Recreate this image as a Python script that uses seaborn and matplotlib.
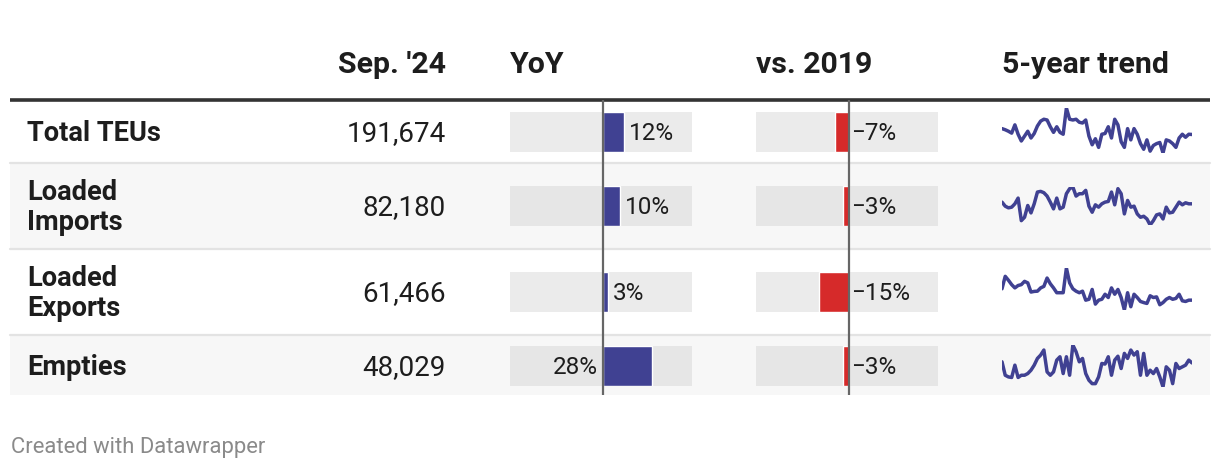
import matplotlib
matplotlib.use("Agg")
import matplotlib.pyplot as plt
import seaborn as sns
import numpy as np
import pandas as pd

# ---------------- data ----------------
categories = ["Total TEUs", "Loaded\nImports", "Loaded\nExports", "Empties"]
sep24 = ["191,674", "82,180", "61,466", "48,029"]
yoy = [12, 10, 3, 28]
vs2019 = [-7, -3, -15, -3]
headers = ["Sep. '24", "YoY", "vs. 2019", "5-year trend"]

trend_total = [199.5, 198, 196, 193.5, 204.5, 192, 183, 189.5, 196, 187, 193, 203, 209.5, 212, 211,
               202, 194.5, 202, 194.5, 192, 227, 212, 211, 212, 208, 207, 211, 189.5, 178, 186,
               174.5, 192, 193, 202, 187, 212, 204.5, 182, 174.5, 199.5, 184.5, 199.5, 192, 179.5, 172,
               184.5, 169.5, 177, 179.5, 181, 167, 184.5, 183, 179.5, 174.5, 187, 192, 188, 192, 191.7]
trend_imports = [83.2, 80.8, 79.8, 80.2, 82.2, 85.6, 72.2, 74.2, 81.2, 76.8, 82.2, 89.2, 89.6, 88.8, 86.8,
                 83.2, 79.2, 85.6, 79.2, 80.2, 88.2, 91.2, 92.2, 86.8, 88.2, 88.2, 90.2, 80.8, 77.2, 81.6,
                 80.2, 82.2, 83.2, 83.6, 89.2, 81.6, 91.2, 88.2, 76.2, 84.2, 80.2, 80.8, 76.2, 74.2, 74.8,
                 73.2, 69.6, 72.2, 75.6, 76.2, 73.2, 80.2, 76.8, 77.2, 80.2, 83.2, 81.6, 82.8, 82.2, 82.2]
trend_exports = [66.7, 72.4, 70.6, 68.6, 67.1, 68.2, 68.6, 70.1, 69.4, 65.2, 65.5, 65.6, 67.1, 67.8, 71.6,
                 69.0, 67.1, 64.9, 64.9, 64.9, 76.2, 69.4, 66.7, 65.6, 64.9, 65.6, 61.5, 61.9, 66.4, 59.7,
                 61.5, 61.9, 64.2, 62.7, 67.1, 64.2, 66.4, 62.7, 57.0, 64.9, 58.5, 64.2, 62.7, 60.9, 60.4,
                 60.0, 63.5, 62.7, 63.0, 59.4, 60.4, 61.9, 62.7, 61.9, 62.3, 64.2, 61.2, 60.9, 61.5, 61.5]
trend_empties = [48.4, 43.6, 43.0, 42.8, 47.2, 42.8, 43.6, 43.6, 44.2, 45.4, 47.2, 49.6, 50.8, 52.6, 44.8,
                 43.6, 44.8, 49.0, 50.2, 44.2, 50.2, 43.6, 54.4, 52.0, 48.4, 49.6, 44.2, 41.8, 40.6, 40.6,
                 43.0, 47.8, 47.6, 50.2, 43.6, 49.0, 50.4, 46.0, 51.4, 49.6, 52.6, 50.8, 52.0, 43.6, 51.4,
                 43.6, 45.4, 44.2, 46.0, 43.0, 39.4, 46.6, 45.4, 40.6, 47.8, 46.0, 46.6, 47.2, 49.0, 48.0]
trends = [trend_total, trend_imports, trend_exports, trend_empties]

# ---------------- style ----------------
sns.set_theme(style="white")
plt.rcParams["font.family"] = ["Roboto", "DejaVu Sans"]

W, H = 1220, 472
BLUE = "#404192"
RED = "#d62a2a"
TXT = "#1d1d1d"

fig = plt.figure(figsize=(W / 100, H / 100), dpi=100)
fig.patch.set_facecolor("white")

def add_ax(x0, y0, x1, y1, z=1):
    return fig.add_axes([x0 / W, 1 - y1 / H, (x1 - x0) / W, (y1 - y0) / H], zorder=z)

# background / layout axes in pixel coordinates
bg = add_ax(0, 0, W, H, z=0)
bg.set_xlim(0, W)
bg.set_ylim(H, 0)
bg.axis("off")

row_edges = [100, 163, 249, 335, 395]
row_centers = [132, 206, 292, 366]

for i in range(4):
    if i % 2 == 1:
        bg.fill_between([10, 1210], row_edges[i], row_edges[i + 1], color="#f7f7f7", lw=0)
for y in row_edges[1:4]:
    bg.plot([10, 1210], [y, y], color="#e3e3e3", lw=1.6)
bg.plot([10, 1210], [100, 100], color="#333333", lw=2.6, solid_capstyle="butt")

# headers
hy = 65
HFS = 21.8
bg.text(446, hy, headers[0], ha="right", va="center", fontsize=HFS, fontweight="bold", color=TXT)
bg.text(510, hy, headers[1], ha="left", va="center", fontsize=HFS, fontweight="bold", color=TXT)
bg.text(756, hy, headers[2], ha="left", va="center", fontsize=HFS, fontweight="bold", color=TXT)
bg.text(1002, hy, headers[3], ha="left", va="center", fontsize=HFS, fontweight="bold", color=TXT)

for i in range(4):
    bg.text(27, row_centers[i] + 1.2, categories[i], ha="left", va="center", fontsize=19.6,
            fontweight="bold", color=TXT, linespacing=1.15)
    bg.text(446, row_centers[i] + 1.2, sep24[i], ha="right", va="center", fontsize=20, color=TXT)

bg.text(11, 448, "Created with Datawrapper", ha="left", va="center", fontsize=15.8, color="#8a8a8a")

# bar columns
PFS = 17.5
cols = [(510, 692, -52.4, 50.5, yoy, BLUE, 2.6), (756, 938, -47.5, 45.8, vs2019, RED, 1.3)]
for (x0, x1, lo, hi, vals, colr, off) in cols:
    for i in range(4):
        c = row_centers[i]
        ax = add_ax(x0, c - 20, x1, c + 20, z=2)
        ax.set_facecolor("#ebebeb" if i % 2 == 0 else "#e6e6e6")
        df = pd.DataFrame({"v": [vals[i]], "k": ["a"]})
        sns.barplot(data=df, x="v", y="k", orient="h", color=colr, width=1.0,
                    saturation=1, ax=ax, zorder=2)
        ax.set_xlim(lo, hi)
        ax.set_ylim(0.5, -0.5)
        for s in ax.spines.values():
            s.set_visible(False)
        ax.set_xticks([])
        ax.set_yticks([])
        ax.set_xlabel("")
        ax.set_ylabel("")
        v = vals[i]
        lab = f"{v}%" if v >= 0 else f"\u2212{abs(v)}%"
        ty = 0.03
        if v > 20:
            ax.text(-2.6, ty, lab, ha="right", va="center", fontsize=PFS, color=TXT)
        elif v >= 0:
            ax.text(v + off, ty, lab, ha="left", va="center", fontsize=PFS, color=TXT)
        else:
            ax.text(off, ty, lab, ha="left", va="center", fontsize=PFS, color=TXT)
    # zero line spanning whole table
    lax = add_ax(x0, 100, x1, 395, z=3)
    lax.set_xlim(lo, hi)
    lax.set_ylim(0, 1)
    lax.axvline(0, color="#666666", lw=1.6)
    lax.axis("off")
    lax.patch.set_alpha(0)

# sparklines
spark_box = [(108, 153), (187, 225), (268, 310), (345, 387)]
for i in range(4):
    y0, y1 = spark_box[i]
    ax = add_ax(1002, y0, 1192, y1, z=2)
    d = pd.DataFrame({"m": np.arange(len(trends[i])), "v": trends[i]})
    sns.lineplot(data=d, x="m", y="v", ax=ax, color=BLUE, lw=2.5)
    ax.set_xlim(0, len(trends[i]) - 1)
    vmin, vmax = min(trends[i]), max(trends[i])
    ax.set_ylim(vmin, vmax)
    ax.axis("off")
    ax.patch.set_alpha(0)

fig.savefig("out.png", dpi=100, facecolor="white")
